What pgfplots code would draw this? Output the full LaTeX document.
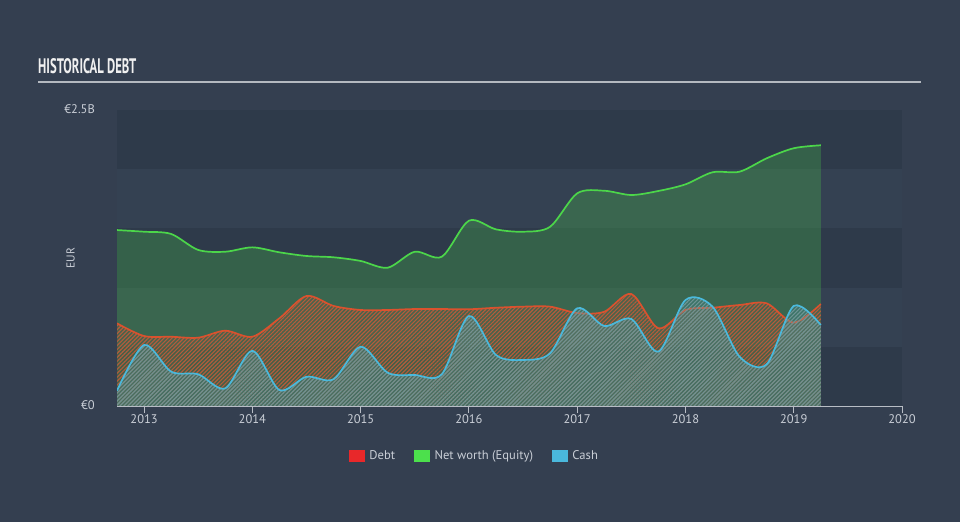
\documentclass[border=0pt]{standalone}
\usepackage{pgfplots}
\usepackage{pgfplotstable}
\pgfplotsset{compat=1.18}
\usepackage{graphicx}
\usepackage{fontspec}
\setmainfont{PT Sans}
\usetikzlibrary{patterns.meta}
\definecolor{bg}{HTML}{343F50}
\definecolor{darkband}{HTML}{2E3A4A}
\definecolor{lightband}{HTML}{344152}
\definecolor{textgray}{HTML}{C9CED6}
\definecolor{titleline}{HTML}{B4B9C0}
\definecolor{axisgray}{HTML}{B8BDC5}
\definecolor{eqline}{HTML}{4CD64A}
\definecolor{debtline}{HTML}{DA522E}
\definecolor{cashline}{HTML}{4AB9DC}
\definecolor{debtstripe}{HTML}{B45C3C}
\definecolor{cashstripe}{HTML}{6E9494}
\definecolor{legred}{HTML}{E8282A}
\definecolor{leggreen}{HTML}{4CE04C}
\definecolor{legcyan}{HTML}{4AB8DC}

\pgfplotstableread{
x y
2012.75 1.486
2013.00 1.472
2013.25 1.453
2013.50 1.318
2013.75 1.303
2014.00 1.340
2014.25 1.298
2014.50 1.267
2014.75 1.256
2015.00 1.225
2015.25 1.168
2015.50 1.303
2015.75 1.261
2016.00 1.565
2016.25 1.492
2016.50 1.472
2016.75 1.514
2017.00 1.796
2017.25 1.818
2017.50 1.782
2017.75 1.816
2018.00 1.872
2018.25 1.974
2018.50 1.979
2018.75 2.092
2019.00 2.177
2019.25 2.202
}\equity

\pgfplotstableread{
x y
2012.75 0.698
2013.00 0.591
2013.25 0.585
2013.50 0.577
2013.75 0.636
2014.00 0.585
2014.25 0.741
2014.50 0.929
2014.75 0.845
2015.00 0.811
2015.25 0.811
2015.50 0.819
2015.75 0.819
2016.00 0.817
2016.25 0.830
2016.50 0.839
2016.75 0.839
2017.00 0.785
2017.25 0.796
2017.50 0.946
2017.75 0.656
2018.00 0.811
2018.25 0.830
2018.50 0.853
2018.75 0.867
2019.00 0.704
2019.25 0.861
}\debt

\pgfplotstableread{
x y
2012.75 0.129
2013.00 0.515
2013.25 0.290
2013.50 0.268
2013.75 0.149
2014.00 0.467
2014.25 0.135
2014.50 0.247
2014.75 0.226
2015.00 0.501
2015.25 0.281
2015.50 0.262
2015.75 0.268
2016.00 0.760
2016.25 0.431
2016.50 0.389
2016.75 0.445
2017.00 0.825
2017.25 0.676
2017.50 0.735
2017.75 0.459
2018.00 0.895
2018.25 0.839
2018.50 0.416
2018.75 0.352
2019.00 0.845
2019.25 0.684
}\cash

\begin{document}
\begin{tikzpicture}
\fill[bg] (0pt,0pt) rectangle (960pt,522pt);
% title
\node[anchor=south west, inner sep=0pt, text=white!94!black] at (38pt,448pt)
  {\resizebox{98pt}{15pt}{\bfseries HISTORICAL DEBT}};
\draw[titleline, line width=1.6pt] (38pt,440pt) -- (921pt,440pt);
% bands
\fill[darkband]  (117pt,116pt)   rectangle (902pt,175.2pt);
\fill[lightband] (117pt,175.2pt) rectangle (902pt,234.4pt);
\fill[darkband]  (117pt,234.4pt) rectangle (902pt,293.6pt);
\fill[lightband] (117pt,293.6pt) rectangle (902pt,352.8pt);
\fill[darkband]  (117pt,352.8pt) rectangle (902pt,412pt);
\begin{axis}[
  scale only axis,
  width=785pt, height=296pt,
  at={(117pt,116pt)}, anchor=south west,
  xmin=2012.75, xmax=2020, ymin=0, ymax=2.5,
  axis line style={draw=none},
  xtick={2013,2014,2015,2016,2017,2018,2019,2020},
  xticklabels={2013,2014,2015,2016,2017,2018,2019,2020},
  xtick pos=bottom, tick align=outside, major tick length=7pt,
  xtick style={color=axisgray, line width=0.9pt},
  ytick={0,2.5}, yticklabels={€0,€2.5B},
  ytick style={draw=none},
  ticklabel style={font=\fontsize{12.5}{14}\selectfont, text=textgray},
  xticklabel style={inner sep=0pt, anchor=north, yshift=-1pt},
  yticklabel style={inner sep=0pt, anchor=east, xshift=-15pt, yshift=1pt},
  ylabel={EUR},
  ylabel style={font=\fontsize{11.5}{13}\selectfont, text=textgray,
    at={(axis description cs:-0.059,0.5)}, anchor=center, rotate=0},
  legend columns=3,
  legend style={at={(0.4554,-0.169)}, anchor=center, draw=none, fill=none,
    text=textgray, font=\fontsize{12.6}{14}\selectfont,
    /tikz/every odd column/.append style={column sep=3pt},
    /tikz/every even column/.append style={column sep=17pt}},
]
% equity
\addplot[smooth, draw=none, fill=eqline, fill opacity=0.25, forget plot] table {\equity} \closedcycle;
\addplot[smooth, eqline, line width=1.7pt, forget plot] table {\equity};
% debt
\addplot[smooth, draw=none, fill=debtline, fill opacity=0.1, forget plot] table {\debt} \closedcycle;
\addplot[smooth, draw=none, pattern={Lines[angle=45,distance=2.8pt,line width=1.1pt]}, pattern color=debtstripe, forget plot] table {\debt} \closedcycle;
\addplot[smooth, debtline, line width=1.7pt, forget plot] table {\debt};
% cash
\addplot[smooth, draw=none, fill=cashline, fill opacity=0.18, forget plot] table {\cash} \closedcycle;
\addplot[smooth, draw=none, pattern={Lines[angle=45,distance=2.8pt,line width=1.1pt]}, pattern color=cashstripe, forget plot] table {\cash} \closedcycle;
\addplot[smooth, cashline, line width=1.7pt, forget plot] table {\cash};
% axis line
\draw[axisgray, line width=0.9pt] (axis cs:2012.75,0) -- (axis cs:2020,0);
% legend
\addlegendimage{legend image code/.code={\fill[legred] (0pt,-5pt) rectangle (15pt,6pt);}}
\addlegendentry{Debt}
\addlegendimage{legend image code/.code={\fill[leggreen] (0pt,-5pt) rectangle (15pt,6pt);}}
\addlegendentry{Net worth (Equity)}
\addlegendimage{legend image code/.code={\fill[legcyan] (0pt,-5pt) rectangle (15pt,6pt);}}
\addlegendentry{Cash}
\end{axis}
\end{tikzpicture}
\end{document}
